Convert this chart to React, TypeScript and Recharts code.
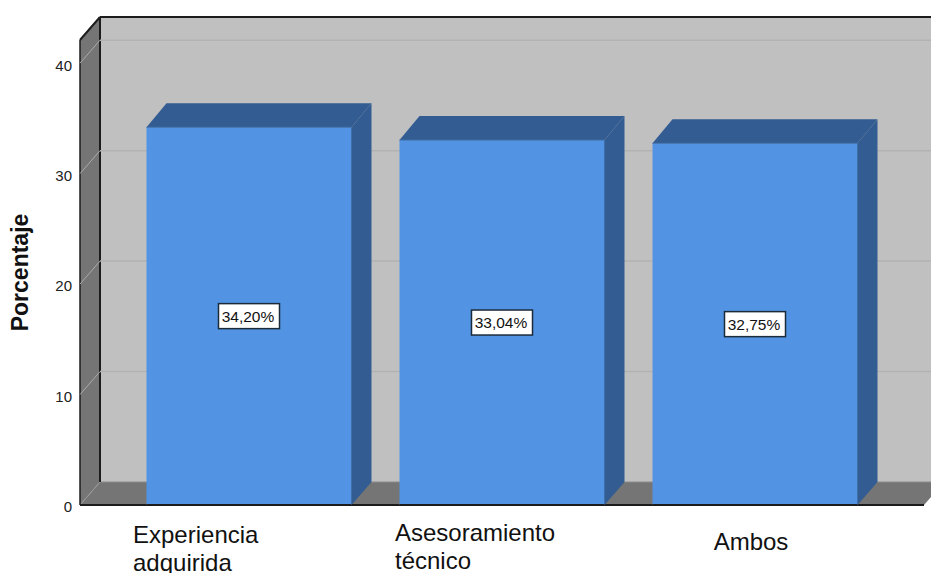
import React from 'react';
import { BarChart, Bar, XAxis, YAxis, ReferenceArea, LabelList } from 'recharts';

const categories = ['Experiencia adquirida', 'Asesoramiento técnico', 'Ambos'];
const percentages = [34.2, 33.04, 32.75];
const yTicks = [0, 10, 20, 30, 40];
const yTop = 42.1;

const rows = categories.map((name, i) => ({ name, value: percentages[i] }));

// Extrusion of the pseudo-3D box, in pixels.
const DX = 20;
const DY = -23;

// Inset of the first and last category band inside the floor.
const PAD_LEFT = 42.5;
const PAD_RIGHT = 42.5;

const FRONT = '#5294E3';
const SHADE = '#335C92';
const WALL = '#C0C0C0';
const SIDE = '#757575';
const INK = '#1C1C1C';
const FONT = '"Liberation Sans", Arial, sans-serif';

// Left edge and baseline offsets of each wrapped category label.
const tickLayout = [
  { dx: -116, lines: ['Experiencia', 'adquirida'], first: 30, step: 28, anchor: 'start' },
  { dx: -107, lines: ['Asesoramiento', 'técnico'], first: 28, step: 28, anchor: 'start' },
  { dx: -4, lines: ['Ambos'], first: 37, step: 28, anchor: 'middle' },
];

const Room = ({ x: bandLeft, y, width: bandWidth, height }: any) => {
  const x = bandLeft - PAD_LEFT;
  const width = bandWidth + PAD_LEFT + PAD_RIGHT;
  const bottom = y + height;
  const right = x + width;
  return (
    <g>
      <rect x={x + DX} y={y + DY} width={width + 40} height={height} fill={WALL} />
      <polygon points={`${x},${y} ${x + DX},${y + DY} ${x + DX},${bottom + DY} ${x},${bottom}`} fill={SIDE} />
      <polygon
        points={`${x},${bottom} ${x + DX},${bottom + DY} ${right + DX},${bottom + DY} ${right},${bottom}`}
        fill={SIDE}
      />
      <line x1={x + DX} y1={bottom + DY} x2={right + DX} y2={bottom + DY} stroke="#8c8c8c" strokeWidth={1} />
      <line x1={x} y1={bottom} x2={x + DX} y2={bottom + DY} stroke="#9a9a9a" strokeWidth={1} />
      <line x1={x} y1={y} x2={x + DX} y2={y + DY} stroke={INK} strokeWidth={2} />
      <line x1={x + DX} y1={y + DY} x2={right + DX + 10} y2={y + DY} stroke={INK} strokeWidth={2} />
      <line x1={x + DX} y1={y + DY} x2={x + DX} y2={bottom + DY} stroke={INK} strokeWidth={2} />
      <line x1={x} y1={y} x2={x} y2={bottom} stroke={INK} strokeWidth={1.5} />
      <line x1={x} y1={bottom} x2={right} y2={bottom} stroke={INK} strokeWidth={2} />
    </g>
  );
};

// A zero-height reference band gives the scaled position of one gridline;
// it stays on the background layer, under the bars.
const GridLine = ({ x: bandLeft, y, width: bandWidth }: any) => {
  const x = bandLeft - PAD_LEFT;
  const right = bandLeft + bandWidth + PAD_RIGHT;
  return (
    <g>
      <line x1={x} y1={y} x2={x + DX} y2={y + DY} stroke="#ABABAB" strokeWidth={1} />
      <line x1={x + DX} y1={y + DY} x2={right + DX + 10} y2={y + DY} stroke="#B2B2B2" strokeWidth={1.5} />
    </g>
  );
};

const Block = ({ x, y, width, height }: any) => {
  const right = x + width;
  const bottom = y + height;
  return (
    <g>
      <polygon
        points={`${x},${y} ${x + DX},${y + DY - 1} ${right + DX},${y + DY - 1} ${right},${y}`}
        fill={SHADE}
      />
      <polygon
        points={`${right},${y} ${right + DX},${y + DY - 1} ${right + DX},${bottom + DY} ${right},${bottom}`}
        fill={SHADE}
      />
      <rect x={x} y={y} width={width} height={height} fill={FRONT} />
      <line x1={right} y1={y} x2={right} y2={bottom} stroke="#3F6FA8" strokeWidth={1} />
      <line x1={x} y1={y} x2={right} y2={y} stroke="#3F6FA8" strokeWidth={1} />
      <line x1={x} y1={bottom} x2={right} y2={bottom} stroke={INK} strokeWidth={2} />
    </g>
  );
};

const ValueTag = ({ x, y, width, height, value }: any) => {
  const cx = x + width / 2;
  const cy = y + height / 2;
  return (
    <g>
      <rect x={cx - 30.5} y={cy - 12.5} width={61} height={25} fill="#FFFFFF" stroke="#1C2B3A" strokeWidth={1.5} />
      <text x={cx - 1} y={cy + 5.5} textAnchor="middle" fontFamily={FONT} fontSize={15.5} fill="#111111">
        {Number(value).toFixed(2).replace('.', ',')}%
      </text>
    </g>
  );
};

const CategoryTick = ({ x, y, index }: any) => {
  const t = tickLayout[index];
  return (
    <text textAnchor={t.anchor} fontFamily={FONT} fontSize={24} fill="#111111">
      {t.lines.map((line, i) => (
        <tspan key={line} x={x + t.dx} y={y + t.first + i * t.step}>
          {line}
        </tspan>
      ))}
    </text>
  );
};

const AxisTitle = ({ viewBox }: any) => {
  const cy = viewBox.y + viewBox.height / 2;
  return (
    <text
      transform={`translate(28 ${cy}) rotate(-90)`}
      textAnchor="middle"
      fontFamily={FONT}
      fontSize={23}
      fontWeight={700}
      fill="#111111"
    >
      Porcentaje
    </text>
  );
};

export default function App() {
  return (
    <div style={{ position: 'absolute', left: 0, top: 0, width: 931, height: 573, overflow: 'hidden', background: '#fff' }}>
      <BarChart
        width={931}
        height={573}
        data={rows}
        margin={{ top: 40, right: 7, bottom: 0, left: 0 }}
        barSize={205}
      >
        <XAxis
          dataKey="name"
          interval={0}
          height={68}
          axisLine={false}
          tickLine={false}
          padding={{ left: PAD_LEFT, right: PAD_RIGHT }}
          tick={<CategoryTick />}
        />
        <YAxis
          width={80}
          domain={[0, yTop]}
          ticks={yTicks}
          axisLine={false}
          tickLine={false}
          tick={{ fontFamily: FONT, fontSize: 15, fill: '#222222', dy: 2 }}
          label={<AxisTitle />}
        />
        <ReferenceArea y1={0} y2={yTop} shape={<Room />} />
        {yTicks.slice(1).map((t) => (
          <ReferenceArea key={t} y1={t} y2={t} shape={<GridLine />} />
        ))}
        <Bar dataKey="value" isAnimationActive={false} shape={<Block />}>
          <LabelList dataKey="value" content={<ValueTag />} />
        </Bar>
      </BarChart>
    </div>
  );
}
